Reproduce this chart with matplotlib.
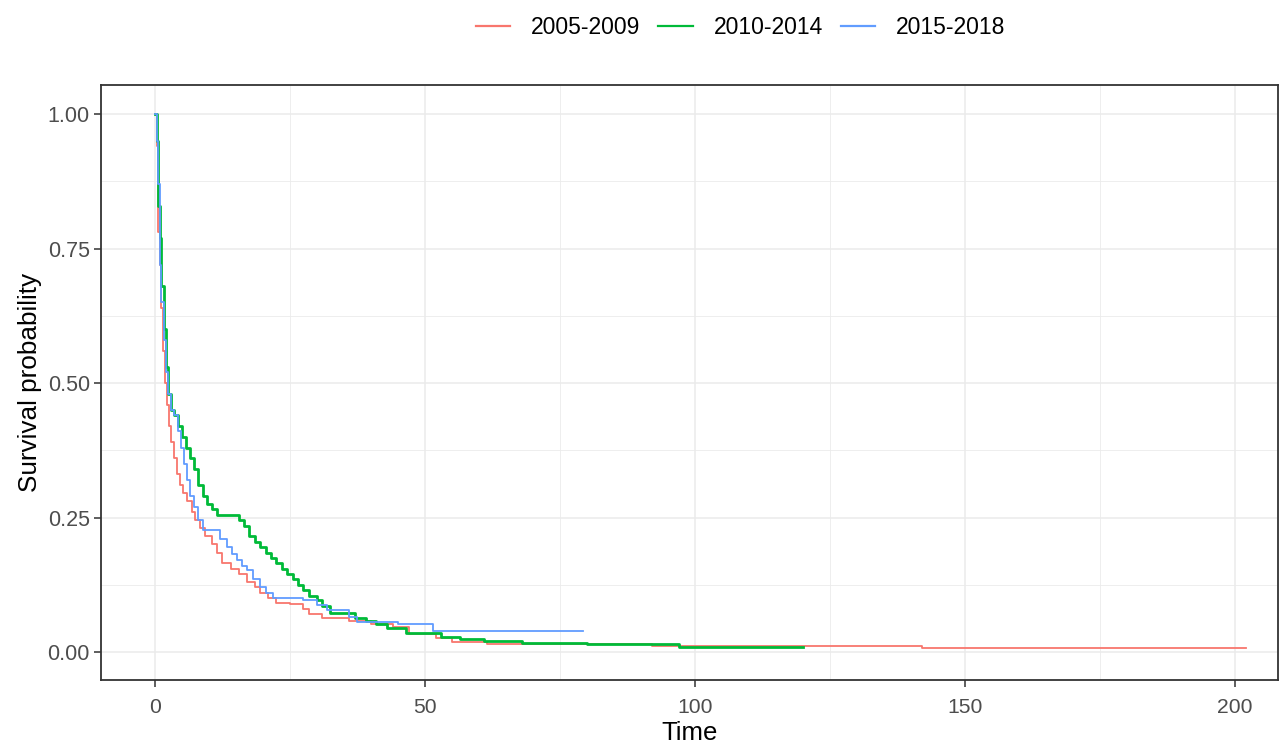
import matplotlib
matplotlib.use("Agg")
import matplotlib.pyplot as plt
from matplotlib.ticker import MultipleLocator

plt.rcParams['font.family'] = ['Liberation Sans', 'DejaVu Sans']

groups = ["2005-2009", "2010-2014", "2015-2018"]
colors = ["#F8766D", "#00BA38", "#619CFF"]

# Kaplan-Meier steps: time of each drop, survival after it
t_2005 = [0, 0.3, 0.6, 0.9, 1.2, 1.5, 1.8, 2.2, 2.6, 3.0,
          3.5, 4.0, 4.6, 5.2, 6.0, 6.8, 7.5, 8.3, 9.2, 10.5,
          11.5, 12.5, 14.0, 15.5, 17.0, 18.5, 19.5, 21.0, 22.5, 25.0,
          27.5, 28.5, 31.0, 36.0, 40.0, 44.0, 47.0, 52.0, 55.0, 61.5,
          70.0, 92.0, 142.0, 202.0]
s_2005 = [1.0, 0.94, 0.78, 0.72, 0.64, 0.56, 0.50, 0.46, 0.42, 0.39,
          0.36, 0.33, 0.31, 0.295, 0.28, 0.26, 0.245, 0.23, 0.215, 0.20,
          0.185, 0.165, 0.155, 0.145, 0.13, 0.12, 0.11, 0.10, 0.092, 0.09,
          0.08, 0.07, 0.063, 0.058, 0.052, 0.047, 0.034, 0.026, 0.019, 0.015,
          0.014, 0.012, 0.008, 0.008]

t_2010 = [0, 0.3, 0.6, 0.9, 1.2, 1.6, 2.0, 2.5, 3.0, 3.5,
          4.2, 5.0, 5.8, 6.5, 7.2, 8.0, 8.8, 9.6, 10.5, 11.5,
          15.5, 16.5, 17.5, 18.5, 19.5, 20.5, 21.5, 22.5, 23.5, 24.5,
          25.5, 26.5, 27.5, 28.5, 30.0, 31.0, 32.5, 37.0, 39.0, 41.0,
          43.0, 46.5, 53.0, 56.5, 61.0, 68.0, 80.0, 97.0, 120.0]
s_2010 = [1.0, 0.95, 0.83, 0.77, 0.68, 0.60, 0.53, 0.48, 0.45, 0.44,
          0.42, 0.40, 0.38, 0.36, 0.34, 0.31, 0.29, 0.275, 0.265, 0.255,
          0.245, 0.235, 0.215, 0.205, 0.195, 0.185, 0.175, 0.165, 0.155, 0.145,
          0.135, 0.125, 0.115, 0.105, 0.097, 0.085, 0.072, 0.063, 0.058, 0.052,
          0.045, 0.035, 0.028, 0.024, 0.02, 0.017, 0.014, 0.009, 0.009]

t_2015 = [0, 0.3, 0.6, 0.9, 1.2, 1.6, 2.0, 2.5, 3.0, 3.6,
          4.2, 4.8, 5.4, 6.0, 6.5, 7.2, 8.0, 8.9, 12.0, 13.3,
          14.2, 15.2, 16.2, 17.0, 18.2, 19.4, 20.5, 21.9, 27.4, 30.0,
          31.8, 36.0, 37.4, 45.0, 51.5, 79.3]
s_2015 = [1.0, 0.95, 0.87, 0.72, 0.65, 0.58, 0.52, 0.48, 0.45, 0.44,
          0.41, 0.38, 0.35, 0.32, 0.29, 0.27, 0.245, 0.227, 0.21, 0.195,
          0.183, 0.171, 0.16, 0.152, 0.135, 0.121, 0.11, 0.10, 0.097, 0.088,
          0.078, 0.066, 0.056, 0.053, 0.04, 0.04]

times = [t_2005, t_2010, t_2015]
surv = [s_2005, s_2010, s_2015]

fig = plt.figure(figsize=(12.79, 7.46), dpi=100)
# axes box: x 101..1278 px, y 85..680 px
ax = fig.add_axes([101 / 1279, 66 / 746, 1177 / 1279, 595 / 746])

for name, t, s, c in zip(groups, times, surv, colors):
    lw = 2.0 if name == "2010-2014" else 1.3
    ax.step(t, s, where='post', color=c, linewidth=lw, label=name)

ax.set_xlim(-10, 208)
ax.set_ylim(-0.052, 1.054)
ax.xaxis.set_major_locator(MultipleLocator(50))
ax.xaxis.set_minor_locator(MultipleLocator(25))
ax.yaxis.set_major_locator(MultipleLocator(0.25))
ax.yaxis.set_minor_locator(MultipleLocator(0.125))
ax.yaxis.set_major_formatter(plt.FormatStrFormatter('%.2f'))

ax.grid(which='major', color='#EBEBEB', linewidth=1.1)
ax.grid(which='minor', color='#EBEBEB', linewidth=0.6)
ax.set_axisbelow(True)
for sp in ax.spines.values():
    sp.set_color('#333333')
    sp.set_linewidth(1.3)

ax.tick_params(which='major', length=5, color='#333333', width=1.1,
               labelcolor='#4D4D4D')
ax.tick_params(axis='y', labelsize=15.5, pad=3)
ax.tick_params(axis='x', labelsize=15.2, pad=8)
ax.tick_params(which='minor', length=0)

ax.set_xlabel("Time", fontsize=18.5, labelpad=3)
ax.set_ylabel("Survival probability", fontsize=18.8, labelpad=4)

leg = fig.legend(loc='center', bbox_to_anchor=(0.579, 0.963), ncol=3,
                 frameon=False, fontsize=16.5, handlelength=1.5,
                 columnspacing=0.8, handletextpad=0.9)
for h in leg.get_lines():
    h.set_linewidth(1.6)

fig.savefig("out.png", dpi=100)
